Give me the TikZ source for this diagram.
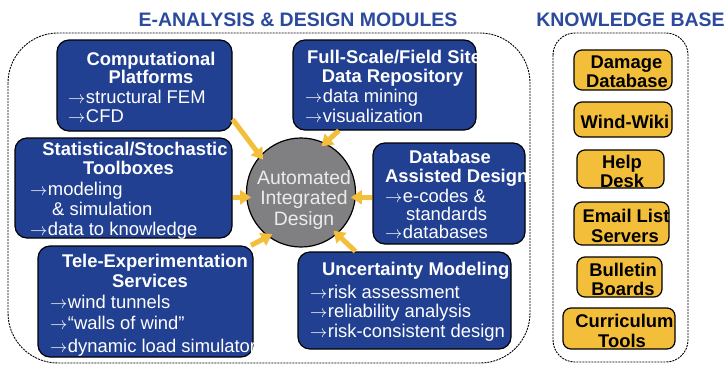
\documentclass[tikz,border=0pt]{standalone}
\usepackage{fontspec}
\setmainfont{Liberation Sans}
\usetikzlibrary{arrows.meta}

\definecolor{modblue}{RGB}{34,64,146}
\definecolor{titleblue}{RGB}{44,74,156}
\definecolor{kbgold}{RGB}{243,190,58}
\definecolor{hubgray}{RGB}{128,128,130}

\newcommand{\ptr}{$\rightarrow$\kern0.5pt}

\tikzset{
    modbox/.style={draw=black, fill=modblue, line width=1.2pt, rounded corners=12pt, inner sep=0pt},
    kbbox/.style={draw=black, fill=kbgold, line width=1.2pt, rounded corners=8pt, inner sep=0pt},
    group/.style={draw=black, line width=0.9pt, dash pattern=on 2pt off 1pt, rounded corners=#1},
    title/.style={text=titleblue, font=\fontsize{19.5}{21}\selectfont\bfseries, inner sep=0pt, anchor=base},
    head/.style={text=white, font=\fontsize{18.4}{20}\selectfont\bfseries, inner sep=0pt, anchor=base},
    item/.style={text=white, font=\fontsize{18.4}{20}\selectfont, inner sep=0pt, anchor=base west},
    kbtext/.style={text=black, font=\fontsize{18.4}{20}\selectfont\bfseries, inner sep=0pt, anchor=base},
    hubtext/.style={text=white!92!black, font=\fontsize{19.4}{21}\selectfont, inner sep=0pt, anchor=base},
    feed/.style={draw=kbgold, line width=5pt, -{Triangle[width=14pt,length=11pt]}, shorten >=-5pt},
}

\begin{document}
\begin{tikzpicture}[x=1pt, y=-1pt]

\useasboundingbox (0,0) rectangle (726,365);

% --- Titel und gestrichelte Bereiche ---
\node[title] at (298,26) {E-ANALYSIS \& DESIGN MODULES};
\node[title] at (630.5,26) {KNOWLEDGE BASE};

\draw[group=50pt] (8,33) rectangle (530,363);
\draw[group=22pt] (553,33) rectangle (688,362);

% --- Module ---
\node[modbox, minimum width=175pt, minimum height=91pt] (comp) at (144.5,85.5) {};
\begin{scope}
\clip[rounded corners=11pt] ([shift={(0.6,0.6)}]comp.north west) rectangle ([shift={(-0.6,-0.6)}]comp.south east);
\node[head] at (151,65) {Computational};
\node[head] at (151,83) {Platforms};
\node[item] at (68,103) {\ptr structural FEM};
\node[item] at (68,122) {\ptr CFD};
\end{scope}

\node[modbox, minimum width=183pt, minimum height=90pt] (full) at (384.5,85) {};
\begin{scope}
\clip[rounded corners=11pt] ([shift={(0.6,0.6)}]full.north west) rectangle ([shift={(-0.6,-0.6)}]full.south east);
\node[head, anchor=base west] at (307,63) {Full-Scale/Field Site};
\node[head] at (392.5,82) {Data Repository};
\node[item] at (305,102) {\ptr data mining};
\node[item] at (305,122) {\ptr visualization};
\end{scope}

\node[modbox, minimum width=217pt, minimum height=100pt] (stat) at (123.5,188) {};
\begin{scope}
\clip[rounded corners=11pt] ([shift={(0.6,0.6)}]stat.north west) rectangle ([shift={(-0.6,-0.6)}]stat.south east);
\node[head] at (135,155) {Statistical/Stochastic};
\node[head] at (128.5,174) {Toolboxes};
\node[item] at (30,195) {\ptr modeling};
\node[item] at (52,215) {\& simulation};
\node[item] at (30,235) {\ptr data to knowledge};
\end{scope}

\node[modbox, minimum width=152pt, minimum height=101pt] (db) at (449,193.5) {};
\begin{scope}
\clip[rounded corners=11pt] ([shift={(0.6,0.6)}]db.north west) rectangle ([shift={(-0.6,-0.6)}]db.south east);
\node[head] at (450,163) {Database};
\node[head, anchor=base west] at (385,182) {Assisted Design};
\node[item] at (385,202) {\ptr e-codes \&};
\node[item] at (406,220) {standards};
\node[item] at (385,238) {\ptr databases};
\end{scope}

\node[modbox, minimum width=215pt, minimum height=111pt] (tele) at (145.5,301.5) {};
\begin{scope}
\clip[rounded corners=11pt] ([shift={(0.6,0.6)}]tele.north west) rectangle ([shift={(-0.6,-0.6)}]tele.south east);
\node[head] at (155,267) {Tele-Experimentation};
\node[head] at (150,287) {Services};
\node[item] at (50,308) {\ptr wind tunnels};
\node[item] at (50,329) {\ptr “walls of wind”};
\node[item] at (50,352) {\ptr dynamic load simulator};
\end{scope}

\node[modbox, minimum width=213pt, minimum height=97pt] (unc) at (404.5,300.5) {};
\begin{scope}
\clip[rounded corners=11pt] ([shift={(0.6,0.6)}]unc.north west) rectangle ([shift={(-0.6,-0.6)}]unc.south east);
\node[head, anchor=base west] at (322,275) {Uncertainty Modeling};
\node[item] at (310,298) {\ptr risk assessment};
\node[item] at (310,317) {\ptr reliability analysis};
\node[item] at (310,337) {\ptr risk-consistent design};
\end{scope}

% --- Kreis in der Mitte ---
\node[draw=black, fill=hubgray, line width=1.2pt, circle, minimum size=109pt, inner sep=0pt] (hub) at (301,192.5) {};
\node[hubtext] at (304,184) {Automated};
\node[hubtext] at (304,204) {Integrated};
\node[hubtext] at (304,225) {Design};

% Pfeile zum Kreis
\draw[feed] (comp.-21.5) -- (hub.138);
\draw[feed] (full.225) -- (hub.64);
\draw[feed] (stat.east |- hub.185) -- (hub.185);
\draw[feed] (db.west |- hub.-5) -- (hub.-5);
\draw[feed] (tele.28) -- (hub.233);
\draw[feed] (unc.135) -- (hub.-49);

% --- Knowledge Base ---
\node[kbbox, minimum width=98pt, minimum height=40pt] (dmg) at (623,70) {};
\begin{scope}
\clip[rounded corners=7pt] ([shift={(0.6,0.6)}]dmg.north west) rectangle ([shift={(-0.6,-0.6)}]dmg.south east);
\node[kbtext] at (626.5,68) {Damage};
\node[kbtext] at (627,87) {Database};
\end{scope}

\node[kbbox, minimum width=98pt, minimum height=35pt] (wiki) at (623,119.5) {};
\node[kbtext] at (625,128) {Wind-Wiki};

\node[kbbox, minimum width=87pt, minimum height=38pt] (help) at (620.5,169) {};
\begin{scope}
\clip[rounded corners=7pt] ([shift={(0.6,0.6)}]help.north west) rectangle ([shift={(-0.6,-0.6)}]help.south east);
\node[kbtext] at (622,168) {Help};
\node[kbtext] at (622,187) {Desk};
\end{scope}

\node[kbbox, minimum width=95pt, minimum height=43pt] (mail) at (621.5,223.5) {};
\begin{scope}
\clip[rounded corners=7pt] ([shift={(0.6,0.6)}]mail.north west) rectangle ([shift={(-0.6,-0.6)}]mail.south east);
\node[kbtext] at (626,222) {Email List};
\node[kbtext] at (625,242) {Servers};
\end{scope}

\node[kbbox, minimum width=85pt, minimum height=40pt] (bull) at (619.5,277) {};
\begin{scope}
\clip[rounded corners=7pt] ([shift={(0.6,0.6)}]bull.north west) rectangle ([shift={(-0.6,-0.6)}]bull.south east);
\node[kbtext] at (623,276) {Bulletin};
\node[kbtext] at (623,295) {Boards};
\end{scope}

\node[kbbox, minimum width=112pt, minimum height=41pt] (curr) at (619,328.5) {};
\begin{scope}
\clip[rounded corners=7pt] ([shift={(0.6,0.6)}]curr.north west) rectangle ([shift={(-0.6,-0.6)}]curr.south east);
\node[kbtext] at (624.5,327) {Curriculum};
\node[kbtext] at (622,347) {Tools};
\end{scope}

\end{tikzpicture}
\end{document}
